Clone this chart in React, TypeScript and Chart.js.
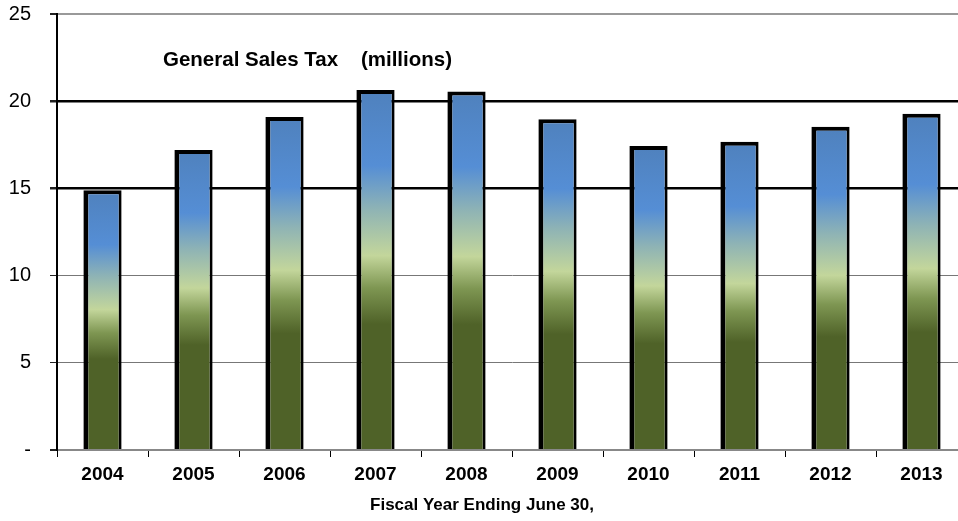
import React, { useEffect, useRef } from "react";
import { Chart, registerables } from "chart.js";

Chart.register(...registerables);

const years = ["2004", "2005", "2006", "2007", "2008", "2009", "2010", "2011", "2012", "2013"];
const salesTax = [14.9, 17.2, 19.1, 20.64, 20.55, 18.96, 17.43, 17.68, 18.54, 19.28];
const yTicks = [0, 5, 10, 15, 20, 25];
const chartTitle = "General Sales Tax    (millions)";
const xTitle = "Fiscal Year Ending June 30,";

const FONT = "'Liberation Sans', Arial, sans-serif";

export default function App() {
  const ref = useRef<HTMLCanvasElement | null>(null);

  useEffect(() => {
    if (!ref.current) return;
    const textPlugin = {
      id: "extraText",
      afterDraw(chart: any) {
        const c = chart.ctx;
        c.save();
        c.fillStyle = "#000";
        c.textBaseline = "middle";
        c.font = `bold 20.5px ${FONT}`;
        c.textAlign = "left";
        c.fillText(chartTitle, chart.chartArea.left + 106, 60);
        c.font = `bold 17px ${FONT}`;
        c.textAlign = "center";
        c.fillText(xTitle, 482, 505);
        c.restore();
      },
    };
    const chart = new Chart(ref.current, {
      type: "bar",
      data: {
        labels: years,
        datasets: [
          {
            data: salesTax,
            backgroundColor: (ctx: any) => {
              const ch = ctx.chart;
              if (!ch.chartArea || ctx.raw == null) return "#4F81BD";
              const ys = ch.scales.y;
              const top = ys.getPixelForValue(ctx.raw);
              const base = ys.getPixelForValue(0);
              const g = ch.ctx.createLinearGradient(0, base, 0, top);
              g.addColorStop(0, "#4F6228");
              g.addColorStop(0.35, "#4F6228");
              g.addColorStop(0.45, "#7E9652");
              g.addColorStop(0.54, "#C3D69B");
              g.addColorStop(0.67, "#8EB3B5");
              g.addColorStop(0.79, "#558ED5");
              g.addColorStop(1, "#4F81BD");
              return g;
            },
            borderColor: "#000",
            borderWidth: { top: 4, left: 5, right: 3, bottom: 0 },
            borderSkipped: "bottom",
            barPercentage: 0.42,
            categoryPercentage: 1,
          },
        ],
      },
      options: {
        responsive: false,
        animation: false,
        devicePixelRatio: 1,
        layout: { padding: { top: 14, right: 1, left: 0, bottom: 0 } },
        plugins: {
          legend: { display: false },
          tooltip: { enabled: false },
        },
        scales: {
          x: {
            grid: {
              display: true,
              offset: true,
              drawOnChartArea: false,
              tickLength: 7,
              color: "#000",
              lineWidth: 1,
            },
            border: { color: "#888", width: 2 },
            ticks: {
              color: "#000",
              font: { family: FONT, size: 19, weight: "bold" },
              padding: 6,
              maxRotation: 0,
            },
            afterFit: (s: any) => {
              s.height = 71;
              s.paddingLeft = 0;
              s.paddingRight = 0;
            },
          },
          y: {
            min: 0,
            max: 25,
            afterBuildTicks: (s: any) => {
              s.ticks = yTicks.map((v) => ({ value: v }));
            },
            grid: {
              tickLength: 7,
              color: (c: any) => {
                const v = c.tick?.value;
                if (v === 15 || v === 20) return "#000";
                if (v === 0 || v === 25) return "#999";
                return "#777";
              },
              lineWidth: (c: any) => {
                const v = c.tick?.value;
                if (v === 15 || v === 20) return 2.5;
                if (v === 0 || v === 25) return 2;
                return 1;
              },
              tickColor: "#222",
            },
            border: { color: "#000", width: 2 },
            ticks: {
              color: "#000",
              font: { family: FONT, size: 20 },
              padding: 19,
              callback: (v: any) => (Number(v) === 0 ? "-" : String(v)),
            },
            afterFit: (s: any) => {
              s.width = 57;
              s.paddingTop = 0;
              s.paddingBottom = 0;
            },
          },
        },
      },
      plugins: [textPlugin],
    });
    return () => chart.destroy();
  }, []);

  return (
    <div
      style={{
        position: "absolute",
        left: 0,
        top: 0,
        width: 958,
        height: 521,
        overflow: "hidden",
        background: "#fff",
      }}
    >
      <canvas ref={ref} width={968} height={521} style={{ display: "block" }} />
    </div>
  );
}
